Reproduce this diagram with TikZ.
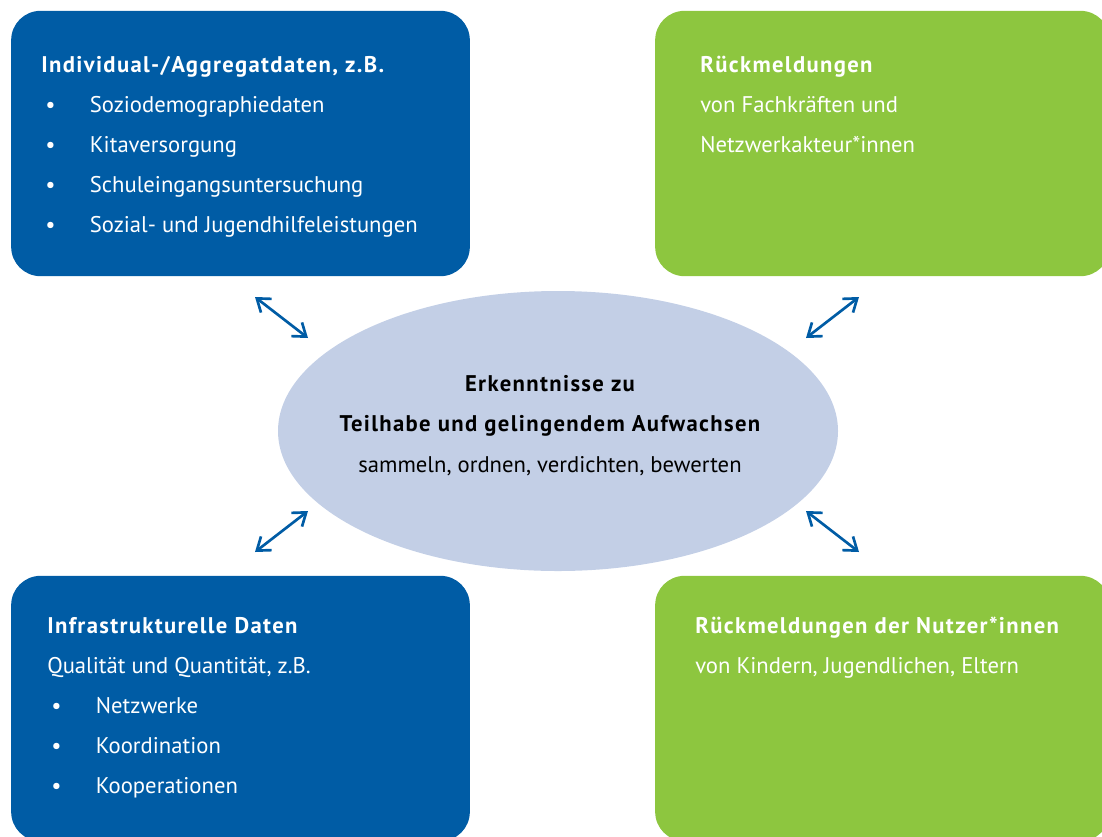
\documentclass[tikz,border=0pt]{standalone}
\usepackage{fontspec}
\setmainfont{PT Sans}[BoldFeatures={LetterSpace=6}]
\usetikzlibrary{arrows.meta,shapes.geometric}
\definecolor{boxblue}{HTML}{005CA5}
\definecolor{boxgreen}{HTML}{8DC63F}
\definecolor{ovalblue}{HTML}{C3CFE6}
\newcommand{\bulletrow}[2]{\makebox[#1][l]{\textbullet}#2}
\begin{document}
\begin{tikzpicture}[x=0.75pt,y=-0.75pt]
        \tikzstyle{panel}=[rounded corners=22pt,minimum width=344pt,minimum height=199pt,inner sep=0pt]
        \tikzstyle{bluepanel}=[panel,fill=boxblue]
        \tikzstyle{greenpanel}=[panel,fill=boxgreen]
        \tikzstyle{oval}=[ellipse,fill=ovalblue,minimum width=420pt,minimum height=210pt]
        \tikzstyle{txt}=[anchor=base west,inner sep=0pt,text=white,font=\fontsize{17pt}{20pt}\selectfont]
        \tikzstyle{head}=[txt,font=\fontsize{17pt}{20pt}\selectfont\bfseries]
        \tikzstyle{mid}=[anchor=base,inner sep=0pt,text=black,font=\fontsize{17pt}{20pt}\selectfont]
        \tikzstyle{edge}=[draw=boxblue,line width=2pt,{Straight Barb[length=9pt,width=13pt]}-{Straight Barb[length=9pt,width=13pt]}]
        \useasboundingbox (0,0) rectangle (1102,836);
        \begin{scope}
           \clip (0,0) rectangle (1102,836);
           \node [bluepanel] (tl) at (240.5,143.5) {};
           \node [greenpanel,minimum width=341pt] (tr) at (882.5,143.5) {};
           \node [bluepanel] (bl) at (240.5,708.5) {};
           \node [greenpanel,minimum width=341pt] (br) at (882.5,708.5) {};
           \node [oval] (core) at (558,431) {};
        \end{scope}
        % top left
        \node [head] (tl0) at (41,72) {Individual-/Aggregatdaten, z.B.};
        \node [txt] (tl1) at (45,112) {\bulletrow{33.5pt}{Soziodemographiedaten}};
        \node [txt] (tl2) at (45,152) {\bulletrow{33.5pt}{Kitaversorgung}};
        \node [txt] (tl3) at (45,192) {\bulletrow{33.5pt}{Schuleingangsuntersuchung}};
        \node [txt] (tl4) at (45,232) {\bulletrow{33.5pt}{Sozial- und Jugendhilfeleistungen}};
        % top right
        \node [head] (tr0) at (700,72) {Rückmeldungen};
        \node [txt] (tr1) at (700,112) {von Fachkräften und};
        \node [txt] (tr2) at (700,152) {Netzwerkakteur*innen};
        % bottom left
        \node [head] (bl0) at (47,633) {Infrastrukturelle Daten};
        \node [txt] (bl1) at (47,673) {Qualität und Quantität, z.B.};
        \node [txt] (bl2) at (51,713) {\bulletrow{33.5pt}{Netzwerke}};
        \node [txt] (bl3) at (51,753) {\bulletrow{33.5pt}{Koordination}};
        \node [txt] (bl4) at (51,793) {\bulletrow{33.5pt}{Kooperationen}};
        % bottom right
        \node [head] (br0) at (695,633) {Rückmeldungen der Nutzer*innen};
        \node [txt] (br1) at (695,673) {von Kindern, Jugendlichen, Eltern};
        % centre
        \node [mid,font=\fontsize{17pt}{20pt}\selectfont\bfseries] (c1) at (550,391) {Erkenntnisse zu};
        \node [mid,font=\fontsize{17pt}{20pt}\selectfont\bfseries] (c2) at (550,431) {Teilhabe und gelingendem Aufwachsen};
        \node [mid] (c3) at (550,472) {sammeln, ordnen, verdichten, bewerten};
        % arrows
        \coordinate (a1) at (255,297); \coordinate (b1) at (308,338);
        \coordinate (a2) at (806,338); \coordinate (b2) at (859,297);
        \coordinate (a3) at (255,552); \coordinate (b3) at (308,511);
        \coordinate (a4) at (806,511); \coordinate (b4) at (859,552);
        \path[edge] (a1) -- (b1);
        \path[edge] (a2) -- (b2);
        \path[edge] (a3) -- (b3);
        \path[edge] (a4) -- (b4);
\end{tikzpicture}
\end{document}
